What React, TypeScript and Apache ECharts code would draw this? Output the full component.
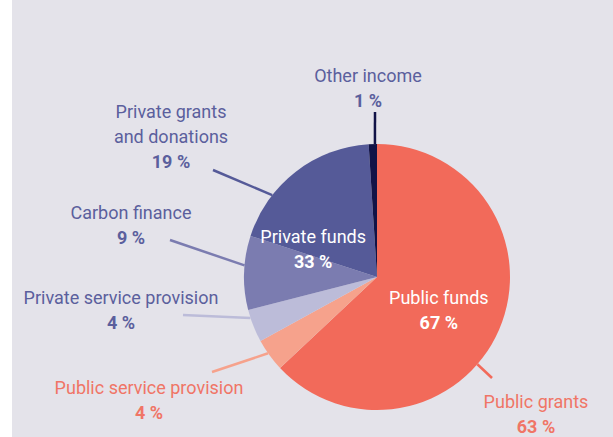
import React, { useEffect, useRef } from "react";
import * as echarts from "echarts";

const categories = [
  "Public grants",
  "Public service provision",
  "Private service provision",
  "Carbon finance",
  "Private grants\nand donations",
  "Other income",
];
const values = [63, 4, 4, 9, 19, 1];
const groupNames = ["Public funds", "Private funds"];
const groupValues = [67, 33];

const sliceColors = ["#f26a5a", "#f6a28c", "#bcbcd9", "#7b7cb0", "#555a98", "#111347"];
const textColors = ["#f07566", "#f07566", "#5b5f9d", "#5b5f9d", "#5b5f9d", "#5b5f9d"];

// layout only: pie geometry, label block centres, leader-line angles and ends
const CX = 377;
const CY = 277;
const R = 133;
const labelCentres = [
  [536, 414],
  [149, 399.5],
  [121, 309.5],
  [131, 224.5],
  [171, 136],
  [368, 87.5],
];
const leaderAngles = [131, 235, 252, 275, 308, 359.1];
const leaderEnds = [
  [492, 378],
  [212, 372],
  [183, 315],
  [170, 240],
  [213, 170],
  [375, 112],
];
const groupLabelOffsets = [
  [2, -2],
  [-4, 7],
];

const FONT = "Roboto, sans-serif";
const FS = 18;

export default function App() {
  const ref = useRef<HTMLDivElement>(null);
  useEffect(() => {
    document.body.style.margin = "0";
    const chart = echarts.init(ref.current!, null, { renderer: "svg" });
    const data = categories.map((name, i) => ({
      name,
      value: values[i],
      itemStyle: { color: sliceColors[i] },
      label: {
        rich: {
          n: { color: textColors[i], fontSize: FS, lineHeight: 25, fontFamily: FONT },
          v: { color: textColors[i], fontSize: FS, lineHeight: 25, fontWeight: "bold", fontFamily: FONT },
        },
      },
      labelLine: { lineStyle: { color: sliceColors[i], width: 2.5 } },
    }));
    chart.setOption({
      animation: false,
      series: [
        {
          type: "pie",
          center: [CX, CY],
          radius: [0, R],
          startAngle: 90,
          clockwise: true,
          avoidLabelOverlap: false,
          silent: true,
          data,
          label: {
            show: true,
            position: "outside",
            formatter: (p: any) =>
              p.name
                .split("\n")
                .map((s: string) => `{n|${s}}`)
                .join("\n") + `\n{v|${p.value} %}`,
          },
          labelLine: { show: true, length: 10, length2: 0, smooth: false },
          labelLayout: (params: any) => {
            const i = params.dataIndex;
            const a = (leaderAngles[i] * Math.PI) / 180;
            const start = [CX + R * Math.sin(a), CY - R * Math.cos(a)];
            const end = leaderEnds[i];
            return {
              x: labelCentres[i][0],
              y: labelCentres[i][1],
              align: "center",
              verticalAlign: "middle",
              hideOverlap: false,
              labelLinePoints: [start, end, end],
            };
          },
        },
        {
          type: "pie",
          center: [CX, CY],
          radius: [0, R],
          startAngle: 90,
          clockwise: true,
          silent: true,
          z: 3,
          itemStyle: { color: "rgba(0,0,0,0)" },
          data: groupNames.map((name, i) => ({
            name,
            value: groupValues[i],
            label: { offset: groupLabelOffsets[i] },
          })),
          label: {
            show: true,
            position: "inside",
            formatter: "{n|{b}}\n{v|{c} %}",
            rich: {
              n: { color: "#ffffff", fontSize: FS, lineHeight: 25, fontFamily: FONT },
              v: { color: "#ffffff", fontSize: FS, lineHeight: 25, fontWeight: "bold", fontFamily: FONT },
            },
          },
          labelLine: { show: false },
        },
      ],
    });
    return () => chart.dispose();
  }, []);
  return (
    <div
      ref={ref}
      style={{
        width: 613,
        height: 437,
        background: "linear-gradient(to right, #ffffff 12px, #e4e3ea 12px)",
      }}
    />
  );
}
